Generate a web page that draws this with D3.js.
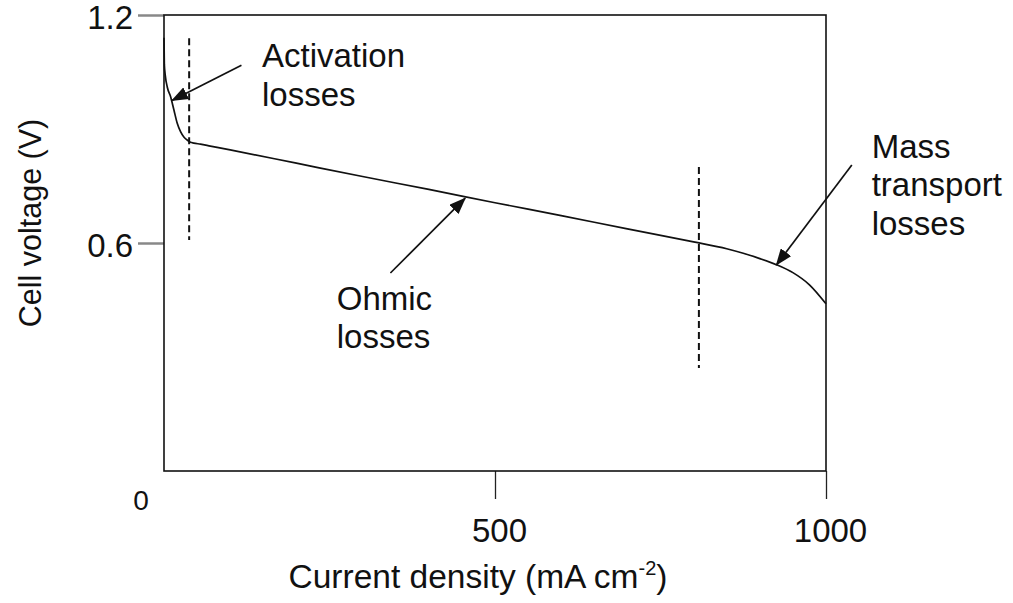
<!DOCTYPE html>
<html>
<head>
<meta charset="utf-8">
<script src="https://cdn.jsdelivr.net/npm/d3@7/dist/d3.min.js"></script>
<style>
  html, body { margin: 0; padding: 0; background: #fff; }
  svg { display: block; }
  text { font-family: "Liberation Sans", Arial, sans-serif; fill: #111; }
</style>
</head>
<body>
<script>
// ---- data ----
const currentDensity = [0, 0.5, 2, 5, 10, 15, 20, 25, 30, 35, 40, 45, 55, 70, 100, 200, 300, 400, 500, 600, 700, 800, 850, 875, 900, 925, 950, 975, 1000];
const cellVoltage    = [1.14, 1.07, 1.04, 1.01, 0.985, 0.95, 0.915, 0.893, 0.879, 0.871, 0.865, 0.863, 0.86, 0.855, 0.845, 0.81, 0.775, 0.741, 0.706, 0.672, 0.637, 0.603, 0.585, 0.573, 0.559, 0.543, 0.522, 0.49, 0.44];
const xTickValues = [500, 1000];
const xTickLabels = ["500", "1000"];
const yTickValues = [0.6, 1.2];
const yTickLabels = ["0.6", "1.2"];
const originLabel = "0";
const regionBounds = [
  { x: 38,  y0: 1.139, y1: 0.608 },
  { x: 808, y0: 0.80,  y1: 0.271 }
];
const annotationLabels = [
  { lines: ["Activation", "losses"], x: 148, y: 1.062 },
  { lines: ["Ohmic", "losses"], x: 261, y: 0.424 },
  { lines: ["Mass", "transport", "losses"], x: 1069, y: 0.824 }
];
const annotationArrows = [
  { from: [117, 1.068], to: [12, 0.975] },
  { from: [342, 0.521], to: [455, 0.718] },
  { from: [1039, 0.805], to: [925, 0.542] }
];
const xTitle = "Current density (mA cm";
const xTitleSup = "-2";
const yTitle = "Cell voltage (V)";

// ---- layout ----
const W = 1013, H = 603;
const FONT = '"Liberation Sans", Arial, sans-serif';
const svg = d3.select("body").append("svg").attr("width", W).attr("height", H);
const x = d3.scaleLinear().domain([0, 1000]).range([164, 826]);
const y = d3.scaleLinear().domain([0, 1.2]).range([471, 15]);

// marker
svg.append("defs").append("marker")
  .attr("id", "arrow")
  .attr("markerUnits", "userSpaceOnUse")
  .attr("viewBox", "0 0 17 13")
  .attr("refX", 16).attr("refY", 6.5)
  .attr("markerWidth", 17).attr("markerHeight", 13)
  .attr("orient", "auto")
  .append("path").attr("d", "M0,0 L17,6.5 L0,13 Z").attr("fill", "#111");

// y axis ticks
const yAxis = svg.append("g").attr("transform", `translate(${x(0)},0)`)
  .call(d3.axisLeft(y).tickValues(yTickValues).tickFormat((d, i) => yTickLabels[i]).tickSize(26).tickPadding(5));
yAxis.select(".domain").remove();
yAxis.selectAll(".tick line").attr("stroke", "#888").attr("stroke-width", 2.5);
yAxis.selectAll(".tick text").attr("font-size", 33).attr("fill", "#111").attr("dy", "0.4em")
  .style("font-family", FONT);

// x axis ticks
const xAxis = svg.append("g").attr("transform", `translate(0,${y(0)})`)
  .call(d3.axisBottom(x).tickValues(xTickValues).tickFormat((d, i) => xTickLabels[i]).tickSize(28));
xAxis.select(".domain").remove();
xAxis.selectAll(".tick line").attr("stroke", "#222").attr("stroke-width", 1.3);
xAxis.selectAll(".tick text").attr("font-size", 33).attr("fill", "#111")
  .attr("y", 71).attr("dy", 0).attr("dx", 4)
  .style("font-family", FONT);

// origin label
svg.append("text").attr("x", x(0) - 23).attr("y", y(0) + 39)
  .attr("text-anchor", "middle").attr("font-size", 28).text(originLabel);

// frame
svg.append("rect")
  .attr("x", x(0)).attr("y", y(1.2))
  .attr("width", x(1000) - x(0)).attr("height", y(0) - y(1.2))
  .attr("fill", "none").attr("stroke", "#111").attr("stroke-width", 1.6);

// region bounds
svg.selectAll("line.bound").data(regionBounds).enter().append("line")
  .attr("class", "bound")
  .attr("x1", d => x(d.x)).attr("x2", d => x(d.x))
  .attr("y1", d => y(d.y0)).attr("y2", d => y(d.y1))
  .attr("stroke", "#111").attr("stroke-width", 2).attr("stroke-dasharray", "7,4");

// curve
const pts = currentDensity.map((c, i) => [c, cellVoltage[i]]);
svg.append("path").datum(pts)
  .attr("fill", "none").attr("stroke", "#111").attr("stroke-width", 1.7)
  .attr("d", d3.line().x(d => x(d[0])).y(d => y(d[1])).curve(d3.curveMonotoneX));

// arrows
svg.selectAll("line.arrow").data(annotationArrows).enter().append("line")
  .attr("class", "arrow")
  .attr("x1", d => x(d.from[0])).attr("y1", d => y(d.from[1]))
  .attr("x2", d => x(d.to[0])).attr("y2", d => y(d.to[1]))
  .attr("stroke", "#111").attr("stroke-width", 1.7)
  .attr("marker-end", "url(#arrow)");

// annotation labels
annotationLabels.forEach(a => {
  const t = svg.append("text").attr("x", x(a.x)).attr("y", y(a.y)).attr("font-size", 33);
  a.lines.forEach((l, i) => {
    t.append("tspan").attr("x", x(a.x)).attr("dy", i === 0 ? 0 : 38.5).text(l);
  });
});

// axis titles
const xt = svg.append("text").attr("x", 478).attr("y", 588).attr("text-anchor", "middle").attr("font-size", 33.5);
xt.append("tspan").text(xTitle);
xt.append("tspan").attr("font-size", 20).attr("dy", -13).text(xTitleSup);
xt.append("tspan").attr("dy", 13).text(")");

svg.append("text")
  .attr("transform", `translate(41,223) rotate(-90)`)
  .attr("text-anchor", "middle").attr("font-size", 30.5).text(yTitle);
</script>
</body>
</html>
